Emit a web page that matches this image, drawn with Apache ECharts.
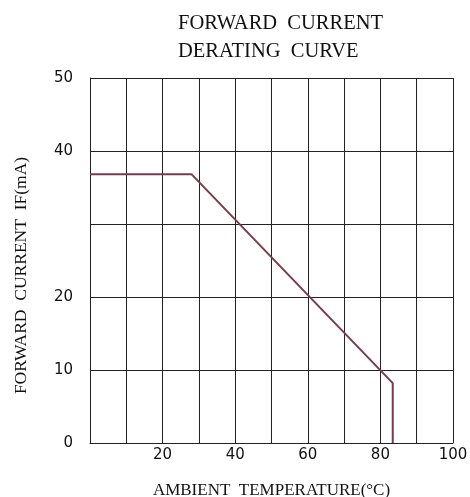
<!DOCTYPE html>
<html>
<head>
<meta charset="utf-8">
<script src="https://cdn.jsdelivr.net/npm/echarts@6/dist/echarts.min.js"></script>
<style>html,body{margin:0;padding:0;background:#fff}#c{width:470px;height:497px}</style>
</head>
<body>
<div id="c"></div>
<script>
const titleLines = ['FORWARD  CURRENT', 'DERATING  CURVE'];
const xAxisName = 'AMBIENT  TEMPERATURE(°C)';
const yAxisName = 'FORWARD  CURRENT  IF(mA)';
const xShownLabels = [20, 40, 60, 80, 100];
const yShownLabels = [0, 10, 20, 40, 50];
const temperature = [0, 28, 83.4, 83.4];
const currentMA = [36.8, 36.8, 8.2, 0];

const chart = echarts.init(document.getElementById('c'), null, {renderer: 'canvas'});
const gridColor = '#222';
chart.setOption({
  animation: false,
  backgroundColor: '#fff',
  title: {
    text: titleLines.join('\n'),
    left: 173, top: 5,
    textStyle: {fontFamily: 'Liberation Serif', fontWeight: 'normal', fontSize: 20.5, lineHeight: 28, color: '#111'}
  },
  grid: {left: 90, right: 17, top: 78, bottom: 54, outerBoundsMode: 'none', containLabel: false},
  xAxis: {
    type: 'value', min: 0, max: 100, interval: 10,
    name: xAxisName, nameLocation: 'middle', nameGap: 39,
    nameTextStyle: {fontFamily: 'Liberation Serif', fontSize: 17, color: '#111'},
    axisLine: {show: true, lineStyle: {color: gridColor, width: 1}},
    axisTick: {show: false},
    splitLine: {show: true, lineStyle: {color: gridColor, width: 1}},
    axisLabel: {
      margin: 5, color: '#111', fontFamily: 'DejaVu Sans', fontSize: 15,
      formatter: v => xShownLabels.includes(v) ? String(v) : ''
    }
  },
  yAxis: {
    type: 'value', min: 0, max: 50, interval: 10,
    name: yAxisName, nameLocation: 'middle', nameGap: 60, nameRotate: 90,
    nameTextStyle: {fontFamily: 'Liberation Serif', fontSize: 17.5, color: '#111', padding: [0, 0, 0, -30]},
    axisLine: {show: true, lineStyle: {color: gridColor, width: 1}},
    axisTick: {show: false},
    splitLine: {show: true, lineStyle: {color: gridColor, width: 1}},
    axisLabel: {
      margin: 17, color: '#111', fontFamily: 'DejaVu Sans', fontSize: 15,
      formatter: v => yShownLabels.includes(v) ? String(v) : ''
    }
  },
  series: [{
    type: 'line',
    data: temperature.map((t, i) => [t, currentMA[i]]),
    symbol: 'none',
    lineStyle: {color: '#7a3b4c', width: 2},
    z: 5
  }]
});
</script>
</body>
</html>
